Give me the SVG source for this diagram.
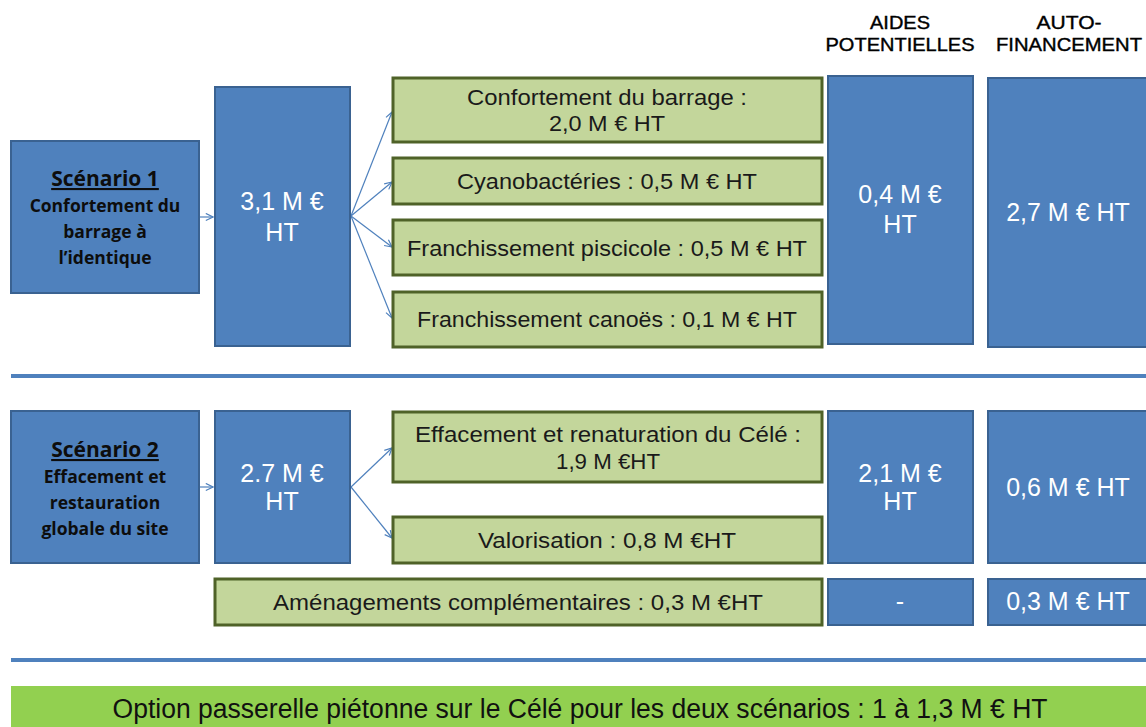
<svg xmlns="http://www.w3.org/2000/svg" width="1146" height="727" viewBox="0 0 1146 727">
<defs>
<marker id="arr" viewBox="0 0 10 10" refX="9" refY="5" markerWidth="9" markerHeight="9" markerUnits="userSpaceOnUse" orient="auto">
<path d="M1,1 L9,5 L1,9" fill="none" stroke="#4F81BD" stroke-width="1.3"/>
</marker>
</defs>
<style>
.blue{fill:#4F81BD;stroke:#3A6291;stroke-width:2}
.green{fill:#C3D69B;stroke:#4F6228;stroke-width:3}
.sep{stroke:#4F81BD;stroke-width:4}
.conn{stroke:#4F81BD;stroke-width:1.2;fill:none}
.val{font-family:"Liberation Sans",Arial,sans-serif;font-size:25px;fill:#FFFFFF;text-anchor:middle}
.lbl{font-family:"Liberation Sans",Arial,sans-serif;font-size:22px;fill:#1A1A1A;text-anchor:middle}
.scn{font-family:"Open Sans","Liberation Sans",sans-serif;font-weight:bold;font-size:17.5px;fill:#0D0D0D;text-anchor:middle}
.scnT{font-family:"Open Sans","Liberation Sans",sans-serif;font-weight:bold;font-size:21px;fill:#0D0D0D;text-anchor:middle;text-decoration:underline}
.hdr{font-family:"Liberation Sans",Arial,sans-serif;font-size:19px;fill:#000000;stroke:#000000;stroke-width:0.4;text-anchor:middle}
</style>
<rect width="1146" height="727" fill="#FFFFFF"/>

<g id="headers">
<text class="hdr" x="900" y="29" textLength="60" lengthAdjust="spacingAndGlyphs">AIDES</text>
<text class="hdr" x="900" y="51" textLength="149" lengthAdjust="spacingAndGlyphs">POTENTIELLES</text>
<text class="hdr" x="1069" y="29" textLength="65" lengthAdjust="spacingAndGlyphs">AUTO-</text>
<text class="hdr" x="1069" y="51" textLength="146" lengthAdjust="spacingAndGlyphs">FINANCEMENT</text>
</g>

<g id="separators">
<line class="sep" x1="11" y1="376" x2="1146" y2="376"/>
<line class="sep" x1="11" y1="660" x2="1146" y2="660"/>
</g>

<g id="connectors">
<line class="conn" x1="200" y1="217" x2="213" y2="217" marker-end="url(#arr)"/>
<line class="conn" x1="351" y1="216" x2="392" y2="112" marker-end="url(#arr)"/>
<line class="conn" x1="351" y1="216" x2="392" y2="182" marker-end="url(#arr)"/>
<line class="conn" x1="351" y1="216" x2="392" y2="247" marker-end="url(#arr)"/>
<line class="conn" x1="351" y1="216" x2="392" y2="318" marker-end="url(#arr)"/>
<line class="conn" x1="200" y1="487" x2="213" y2="487" marker-end="url(#arr)"/>
<line class="conn" x1="351" y1="487" x2="392" y2="448" marker-end="url(#arr)"/>
<line class="conn" x1="351" y1="487" x2="392" y2="538" marker-end="url(#arr)"/>
</g>

<g id="scenario1">
<rect class="blue" x="11" y="141" width="188" height="152"/>
<text class="scnT" x="105" y="186">Scénario 1</text>
<text class="scn" x="105" y="212">Confortement du</text>
<text class="scn" x="105" y="238">barrage à</text>
<text class="scn" x="105" y="264">l’identique</text>
</g>

<g id="total1">
<rect class="blue" x="215" y="87" width="135" height="259"/>
<text class="val" x="282" y="210">3,1 M €</text>
<text class="val" x="282" y="241">HT</text>
</g>

<g id="s1-barrage">
<rect class="green" x="393" y="78" width="429" height="64"/>
<text class="lbl" x="607" y="105" textLength="280" lengthAdjust="spacingAndGlyphs">Confortement du barrage :</text>
<text class="lbl" x="607" y="131" textLength="116" lengthAdjust="spacingAndGlyphs">2,0 M € HT</text>
</g>
<g id="s1-cyano">
<rect class="green" x="393" y="158" width="429" height="46"/>
<text class="lbl" x="607" y="189" textLength="300" lengthAdjust="spacingAndGlyphs">Cyanobactéries  : 0,5 M € HT</text>
</g>
<g id="s1-piscicole">
<rect class="green" x="393" y="220" width="429" height="55"/>
<text class="lbl" x="607" y="256" textLength="400" lengthAdjust="spacingAndGlyphs">Franchissement piscicole : 0,5 M € HT</text>
</g>
<g id="s1-canoes">
<rect class="green" x="393" y="292" width="429" height="55"/>
<text class="lbl" x="607" y="327" textLength="380" lengthAdjust="spacingAndGlyphs">Franchissement canoës : 0,1 M € HT</text>
</g>

<g id="aides1">
<rect class="blue" x="828" y="76" width="145" height="268"/>
<text class="val" x="900" y="203">0,4 M €</text>
<text class="val" x="900" y="233">HT</text>
</g>
<g id="auto1">
<rect class="blue" x="988" y="78" width="160" height="269"/>
<text class="val" x="1068" y="221">2,7 M € HT</text>
</g>

<g id="scenario2">
<rect class="blue" x="11" y="411" width="188" height="152"/>
<text class="scnT" x="105" y="457">Scénario 2</text>
<text class="scn" x="105" y="483">Effacement et</text>
<text class="scn" x="105" y="509">restauration</text>
<text class="scn" x="105" y="535">globale du site</text>
</g>

<g id="total2">
<rect class="blue" x="215" y="411" width="135" height="152"/>
<text class="val" x="282" y="482">2.7 M €</text>
<text class="val" x="282" y="510">HT</text>
</g>

<g id="s2-effacement">
<rect class="green" x="393" y="412" width="429" height="70"/>
<text class="lbl" x="608" y="442" textLength="386" lengthAdjust="spacingAndGlyphs">Effacement et renaturation du Célé :</text>
<text class="lbl" x="608" y="469" textLength="104" lengthAdjust="spacingAndGlyphs">1,9 M €HT</text>
</g>
<g id="s2-valorisation">
<rect class="green" x="393" y="517" width="429" height="46"/>
<text class="lbl" x="607" y="548" textLength="258" lengthAdjust="spacingAndGlyphs">Valorisation :  0,8 M €HT</text>
</g>
<g id="s2-amenagements">
<rect class="green" x="215" y="579" width="607" height="46"/>
<text class="lbl" x="518" y="610" textLength="490" lengthAdjust="spacingAndGlyphs">Aménagements complémentaires : 0,3 M €HT</text>
</g>

<g id="aides2">
<rect class="blue" x="828" y="411" width="145" height="152"/>
<text class="val" x="900" y="482">2,1 M €</text>
<text class="val" x="900" y="510">HT</text>
</g>
<g id="auto2">
<rect class="blue" x="988" y="411" width="160" height="152"/>
<text class="val" x="1068" y="496">0,6 M € HT</text>
</g>
<g id="aides3">
<rect class="blue" x="828" y="579" width="145" height="46"/>
<text class="val" x="900" y="610">-</text>
</g>
<g id="auto3">
<rect class="blue" x="988" y="579" width="160" height="46"/>
<text class="val" x="1068" y="610">0,3 M € HT</text>
</g>

<g id="option">
<rect x="11" y="686" width="1137" height="42" fill="#92D050"/>
<text x="580" y="718" font-family="Liberation Sans Narrow,Liberation Sans,Arial,sans-serif" font-size="27" fill="#111111" text-anchor="middle" textLength="935" lengthAdjust="spacingAndGlyphs">Option passerelle piétonne sur le Célé  pour les deux scénarios : 1 à 1,3 M € HT</text>
</g>
</svg>
